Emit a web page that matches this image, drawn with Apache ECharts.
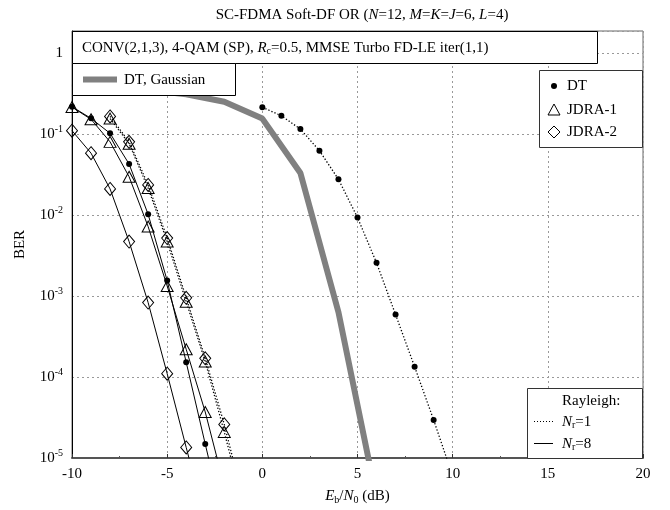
<!DOCTYPE html>
<html lang="en">
<head>
    <meta charset="utf-8" />
    <style>
        body { margin: 0; overflow: hidden; background: #fff; }
        .box { width: 670px; height: 510px; }
    </style>
</head>
<body>
    <div class="box"></div>
    <script src="https://cdn.jsdelivr.net/npm/echarts@6/dist/echarts.min.js"></script>
    <script>
// ---- data ----
var snrGauss = [-10, -8, -6, -4, -2, 0, 2, 4, 6];
var berGauss = [0.42, 0.39, 0.35, 0.31, 0.25, 0.155, 0.033, 6.3e-4, 3.2e-6];

var snrDt1 = [0, 1, 2, 3, 4, 5, 6, 7, 8, 9, 10];
var berDt1 = [0.214, 0.168, 0.115, 0.0622, 0.0276, 0.0093, 0.00257, 5.9e-4, 1.34e-4, 2.95e-5, 6e-6];

var snrNr8 = [-10, -9, -8, -7, -6, -5, -4, -3, -2];
var berDt8 = [0.217, 0.156, 0.102, 0.0426, 0.0102, 1.55e-3, 1.52e-4, 1.49e-5, 1.5e-6];
var berJdra1Nr8 = [0.215, 0.152, 0.080, 0.0297, 0.0072, 1.33e-3, 2.2e-4, 3.7e-5, 4.5e-6];

var snrJdra2Nr8 = [-10, -9, -8, -7, -6, -5, -4, -3];
var berJdra2Nr8 = [0.11, 0.058, 0.021, 4.7e-3, 8.3e-4, 1.1e-4, 1.35e-5, 1.7e-6];

var snrNr1 = [-8, -7, -6, -5, -4, -3, -2, -1];
var berJdra1Nr1 = [0.155, 0.076, 0.0215, 4.7e-3, 8.5e-4, 1.55e-4, 2.1e-5, 2.5e-6];
var berJdra2Nr1 = [0.165, 0.080, 0.0235, 5.2e-3, 9.5e-4, 1.7e-4, 2.6e-5, 3e-6];

var xTicks = [-10, -5, 0, 5, 10, 15, 20];

var FONT = 'Liberation Serif';

function pairs(xs, ys) {
    return xs.map(function (x, i) { return [x, ys[i]]; });
}

var myChart = echarts.init(document.querySelector('.box'), null, { renderer: 'canvas' });

// styles for the marker kinds
var dotted = { color: '#000', width: 1.3, type: [1.3, 2] };
var solid = { color: '#000', width: 1 };
var hollow = { color: 'rgba(0,0,0,0)', borderColor: '#000', borderWidth: 1 };

function curve(name, xs, ys, line, symbol, size, item) {
    return {
        name: name,
        type: 'line',
        data: pairs(xs, ys),
        lineStyle: line,
        symbol: symbol,
        symbolSize: size,
        showAllSymbol: true,
        itemStyle: item,
        clip: true,
        silent: true,
        animation: false
    };
}

var rich = {
    i: { fontFamily: FONT, fontSize: 15, fontStyle: 'italic', color: '#000' },
    s: { fontFamily: FONT, fontSize: 10, color: '#000', padding: [7, 0, 0, 0] },
    t: { fontFamily: FONT, fontSize: 15, color: '#000' }
};

option = {
    backgroundColor: '#fff',
    animation: false,
    title: {
        text: 'SC-FDMA Soft-DF OR ({i|N}=12, {i|M}={i|K}={i|J}=6, {i|L}=4)',
        left: 357,
        textAlign: 'center',
        top: 3,
        textStyle: { fontFamily: FONT, fontSize: 15, fontWeight: 'normal', color: '#000', rich: rich }
    },
    grid: {
        left: 72, right: 27, top: 31, bottom: 52,
        show: true, borderColor: '#666', borderWidth: 1
    },
    xAxis: {
        type: 'value',
        min: -10, max: 20, interval: 5,
        name: '{i|E}{s|b}/{i|N}{s|0} (dB)',
        nameLocation: 'middle',
        nameGap: 30,
        nameTextStyle: { fontFamily: FONT, fontSize: 15, color: '#000', rich: rich },
        axisLine: { onZero: false, lineStyle: { color: '#555', width: 2 } },
        axisTick: { inside: true, length: 4, lineStyle: { color: '#333' } },
        minorTick: { show: true, splitNumber: 2, length: 2, lineStyle: { color: '#555' } },
        axisLabel: {
            fontFamily: FONT, fontSize: 15, color: '#000', margin: 9,
            formatter: function (v) { return xTicks.indexOf(v) >= 0 ? String(v) : ''; }
        },
        splitLine: { show: true, lineStyle: { color: '#999', width: 1, type: [2, 3] } }
    },
    yAxis: {
        type: 'log',
        logBase: 10,
        min: 1e-5, max: 1.87,
        name: 'BER',
        nameLocation: 'middle',
        nameGap: 44,
        nameTextStyle: { fontFamily: FONT, fontSize: 15, color: '#000' },
        axisLine: { show: true, onZero: false, lineStyle: { color: '#000', width: 1 } },
        axisTick: { show: false },
        axisLabel: {
            fontFamily: FONT, fontSize: 15, color: '#000', margin: 9,
            formatter: function (v) {
                var e = Math.log10(v);
                var r = Math.round(e);
                if (Math.abs(e - r) > 0.01) return '';
                if (r === 0) return '1';
                return '{b|10}{p|' + r + '}';
            },
            rich: {
                b: { fontFamily: FONT, fontSize: 15, color: '#000' },
                p: { fontFamily: FONT, fontSize: 10, color: '#000', padding: [0, 0, 9, 0] }
            }
        },
        splitLine: { show: true, lineStyle: { color: '#999', width: 1, type: [2, 3] } }
    },
    series: [
        // DT, Gaussian - thick gray
        {
            name: 'DT, Gaussian',
            type: 'line',
            data: pairs(snrGauss, berGauss),
            lineStyle: { color: '#808080', width: 6 },
            symbol: 'none',
            clip: true,
            silent: true
        },
        curve('DT Nr=1', snrDt1, berDt1, dotted, 'circle', 6, { color: '#000' }),
        curve('JDRA-1 Nr=1', snrNr1, berJdra1Nr1, dotted, 'triangle', [12, 11], hollow),
        curve('JDRA-2 Nr=1', snrNr1, berJdra2Nr1, dotted, 'diamond', [11, 13], hollow),
        curve('DT Nr=8', snrNr8, berDt8, solid, 'circle', 6, { color: '#000' }),
        curve('JDRA-1 Nr=8', snrNr8, berJdra1Nr8, solid, 'triangle', [12, 11], hollow),
        curve('JDRA-2 Nr=8', snrJdra2Nr8, berJdra2Nr8, solid, 'diamond', [11, 13], hollow)
    ],
    graphic: [
        // top text box
        { type: 'rect', z: 100, shape: { x: 72.5, y: 31.5, width: 525, height: 32 },
          style: { fill: '#fff', stroke: '#000', lineWidth: 1 } },
        { type: 'text', z: 101, x: 82, y: 48,
          style: { text: '{t|CONV(2,1,3), 4-QAM (SP), }{i|R}{s|c}{t|=0.5, MMSE Turbo FD-LE iter(1,1)}',
                   rich: rich, verticalAlign: 'middle', fontFamily: FONT, fontSize: 15 } },
        // DT, Gaussian legend
        { type: 'rect', z: 100, shape: { x: 72.5, y: 63.5, width: 163, height: 32 },
          style: { fill: '#fff', stroke: '#000', lineWidth: 1 } },
        { type: 'line', z: 101, shape: { x1: 83, y1: 79.5, x2: 117, y2: 79.5 },
          style: { stroke: '#808080', lineWidth: 6 } },
        { type: 'text', z: 101, x: 124, y: 80,
          style: { text: 'DT, Gaussian', fill: '#000', font: '15px "Liberation Serif"', verticalAlign: 'middle' } },
        // marker legend
        { type: 'rect', z: 100, shape: { x: 539.5, y: 70.5, width: 103, height: 77 },
          style: { fill: '#fff', stroke: '#333', lineWidth: 1 } },
        { type: 'circle', z: 101, shape: { cx: 554, cy: 86, r: 3 }, style: { fill: '#000' } },
        { type: 'text', z: 101, x: 567, y: 86,
          style: { text: 'DT', fill: '#000', font: '15px "Liberation Serif"', verticalAlign: 'middle' } },
        { type: 'polygon', z: 101, shape: { points: [[554, 104], [560, 115], [548, 115]] },
          style: { fill: 'none', stroke: '#000', lineWidth: 1 } },
        { type: 'text', z: 101, x: 567, y: 110,
          style: { text: 'JDRA-1', fill: '#000', font: '15px "Liberation Serif"', verticalAlign: 'middle' } },
        { type: 'polygon', z: 101, shape: { points: [[554, 126], [560, 132], [554, 138], [548, 132]] },
          style: { fill: 'none', stroke: '#000', lineWidth: 1 } },
        { type: 'text', z: 101, x: 567, y: 132,
          style: { text: 'JDRA-2', fill: '#000', font: '15px "Liberation Serif"', verticalAlign: 'middle' } },
        // Rayleigh legend
        { type: 'rect', z: 100, shape: { x: 527.5, y: 388.5, width: 115, height: 70 },
          style: { fill: '#fff', stroke: '#333', lineWidth: 1 } },
        { type: 'text', z: 101, x: 562, y: 401,
          style: { text: 'Rayleigh:', fill: '#000', font: '15px "Liberation Serif"', verticalAlign: 'middle' } },
        { type: 'line', z: 101, shape: { x1: 534, y1: 421.5, x2: 553, y2: 421.5 },
          style: { stroke: '#000', lineWidth: 1, lineDash: [1, 2] } },
        { type: 'text', z: 101, x: 562, y: 422,
          style: { text: '{i|N}{s|r}{t|=1}', rich: rich, verticalAlign: 'middle' } },
        { type: 'line', z: 101, shape: { x1: 534, y1: 443.5, x2: 553, y2: 443.5 },
          style: { stroke: '#000', lineWidth: 1 } },
        { type: 'text', z: 101, x: 562, y: 444,
          style: { text: '{i|N}{s|r}{t|=8}', rich: rich, verticalAlign: 'middle' } }
    ]
};

myChart.setOption(option);
    </script>
</body>
</html>
